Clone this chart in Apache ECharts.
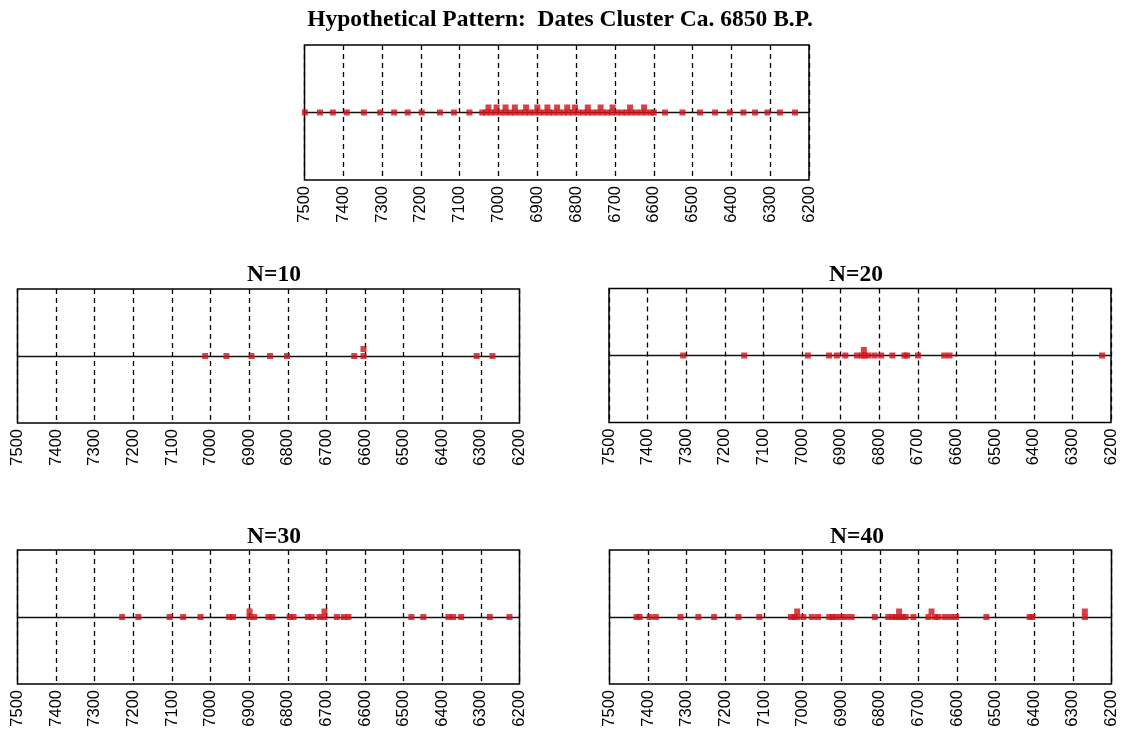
<!DOCTYPE html>
<html><head><meta charset="utf-8">
<script src="https://cdn.jsdelivr.net/npm/echarts@6/dist/echarts.min.js"></script>
<style>html,body{margin:0;padding:0;background:#fff}#c{width:1122px;height:733px}</style>
</head><body><div id="c"></div>
<script>
// ---- data ----
const tickLabels = ['7500','7400','7300','7200','7100','7000','6900','6800','6700','6600','6500','6400','6300','6200'];
const mainTitle = 'Hypothetical Pattern:  Dates Cluster Ca. 6850 B.P.';
const panelTitles = ['N=10', 'N=20', 'N=30', 'N=40'];

// level 0 = on the line, level 1 = stacked above
const patternBase = [7499, 7460, 7427, 7391, 7347, 7305, 7269, 7234, 7198, 7151, 7115, 7075,
  7042, 7032, 7020, 7008, 6995, 6982, 6970, 6958, 6945, 6932, 6920, 6908, 6895, 6882, 6870, 6858,
  6845, 6832, 6820, 6808, 6795, 6782, 6770, 6758, 6745, 6732, 6720, 6708, 6695, 6682, 6670, 6658,
  6645, 6632, 6620, 6606, 6600,
  6571, 6526, 6481, 6442, 6404, 6369, 6339, 6307, 6275, 6236];
const patternStack = [7026, 7005, 6982, 6958, 6929, 6900, 6874, 6849, 6823, 6803, 6770, 6737, 6706, 6661, 6625];

const n10Base = [7014, 6959, 6894, 6846, 6802, 6628, 6604, 6311, 6270];
const n10Stack = [6604];

const n20Base = [7308, 7150, 6985, 6930, 6910, 6888, 6858, 6845, 6838, 6828, 6812, 6795, 6766, 6735, 6728, 6700, 6632, 6618, 6223];
const n20Stack = [6840];

const n30Base = [7229, 7187, 7106, 7071, 7026, 6952, 6942, 6899, 6887, 6850, 6840, 6795, 6785, 6748, 6738,
  6718, 6705, 6673, 6655, 6643, 6480, 6449, 6384, 6372, 6351, 6277, 6226];
const n30Stack = [6899, 6705];

const n40Base = [7430, 7422, 7396, 7380, 7316, 7270, 7229, 7166, 7112, 7030, 7021, 7014, 6998, 6976, 6960,
  6931, 6922, 6914, 6901, 6888, 6873, 6813, 6778, 6767, 6759, 6750, 6741, 6733, 6713, 6674, 6657, 6648,
  6631, 6616, 6603, 6524, 6412, 6405, 6269];
const n40Stack = [7014, 6750, 6666, 6269];

// ---- layout / style ----
const RED = '#d0121a';
const panels = [
  { title: mainTitle, base: patternBase, stack: patternStack, grid: {left: 304.5, top: 45, width: 504.5, height: 135}, tx: 560, ty: 20, step: 5 },
  { title: panelTitles[0], base: n10Base, stack: n10Stack, grid: {left: 17.5, top: 289, width: 502, height: 134}, tx: 274, ty: 275, step: 7 },
  { title: panelTitles[1], base: n20Base, stack: n20Stack, grid: {left: 609, top: 288.5, width: 502, height: 134}, tx: 856, ty: 275, step: 5.5 },
  { title: panelTitles[2], base: n30Base, stack: n30Stack, grid: {left: 17.5, top: 550, width: 502, height: 134}, tx: 274, ty: 537, step: 5.5 },
  { title: panelTitles[3], base: n40Base, stack: n40Stack, grid: {left: 609.5, top: 550, width: 502, height: 134}, tx: 857, ty: 537, step: 5.5 }
];

const grid = [], xAxis = [], yAxis = [], series = [], graphic = [];
panels.forEach((p, i) => {
  grid.push(Object.assign({show: true, borderColor: '#000', borderWidth: 1.5, backgroundColor: 'transparent'}, p.grid));
  xAxis.push({
    gridIndex: i, type: 'value', min: 6200, max: 7500, interval: 100, inverse: true,
    axisLine: {show: false}, axisTick: {show: false},
    axisLabel: {rotate: 90, margin: 6, color: '#000', fontFamily: 'Liberation Sans', fontSize: 16.5,
      showMinLabel: true, showMaxLabel: true,
      formatter: v => tickLabels[Math.round((7500 - v) / 100)]},
    splitLine: {show: true, lineStyle: {color: '#000', type: [5, 4], width: 1.3}}
  });
  const half = p.grid.height / 2;
  yAxis.push({gridIndex: i, type: 'value', min: -half, max: half, show: false, splitLine: {show: false}});
  const pts = p.base.map(d => [d, 0]).concat(p.stack.map(d => [d, p.step]));
  series.push({
    type: 'scatter', xAxisIndex: i, yAxisIndex: i, data: pts,
    symbol: 'rect', symbolSize: [6, 6], itemStyle: {color: RED}, z: 3, silent: true,
    markLine: {silent: true, symbol: 'none', label: {show: false}, z: 2,
      lineStyle: {color: '#111', type: 'solid', width: 1.3}, data: [{yAxis: 0}]}
  });
  graphic.push({type: 'text', x: p.tx, y: p.ty, silent: true,
    style: {text: p.title, fill: '#000', font: 'bold 23.5px "Liberation Serif"', align: 'center', verticalAlign: 'middle'}});
});

const chart = echarts.init(document.getElementById('c'), null, {renderer: 'canvas'});
chart.setOption({animation: false, backgroundColor: '#fff', grid, xAxis, yAxis, series, graphic});
</script>
</body></html>
